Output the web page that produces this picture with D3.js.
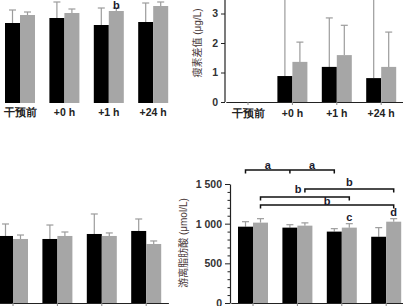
<!DOCTYPE html>
<html>
<head>
<meta charset="utf-8">
<script src="https://cdn.jsdelivr.net/npm/d3@7"></script>
<style>
  body { margin: 0; background: #fff; }
  svg { display: block; font-family: "Liberation Sans", "Noto Sans CJK SC", sans-serif; }
</style>
</head>
<body>
<div id="chart"></div>
<script>
const categories = ["干预前", "+0 h", "+1 h", "+24 h"];

// top left panel (axis cropped away)
const tlBlack = [8.0, 8.5, 7.8, 8.1];
const tlBlackSd = [1.3, 1.6, 1.7, 1.9];
const tlGrey = [8.8, 9.0, 9.2, 9.7];
const tlGreySd = [0.3, 0.4, 0.3, 0.4];

// top right panel: 瘦素差值 (μg/L)
const trBlack = [0, 0.88, 1.19, 0.81];
const trBlackSd = [0, 3.0, 1.66, 3.0];
const trGrey = [0, 1.36, 1.59, 1.19];
const trGreySd = [0, 0.67, 1.01, 1.18];
const trTicks = [0, 1, 2, 3];

// bottom left panel (axis cropped away)
const blBlack = [845, 807, 870, 908];
const blBlackSd = [151, 176, 252, 151];
const blGrey = [807, 845, 845, 744];
const blGreySd = [50, 50, 38, 38];

// bottom right panel: 游离脂肪酸 (μmol/L)
const brBlack = [962, 950, 900, 835];
const brBlackSd = [63, 37, 37, 115];
const brGrey = [1013, 975, 950, 1025];
const brGreySd = [50, 35, 50, 38];
const brTicks = [0, 500, 1000, 1500];

// significance letters above bars: [category index, series, letter]
const tlLetters = [[2, "grey", "b"]];
const brLetters = [[2, "grey", "c"], [3, "grey", "d"]];
// brackets: [from index, to index, series, level, middle tick?]
const brBrackets = [
  [0, 2, "black", 1677, true],
  [1, 3, "grey", 1437, false],
  [0, 2, "grey", 1337, false],
  [0, 3, "grey", 1236, false]
];
// bracket labels: [x position between categories, series, level, letter]
const brBracketLabels = [
  [0.5, "black", 1740, "a"], [1.5, "black", 1740, "a"],
  [0.85, "grey", 1437, "b"], [2.0, "grey", 1530, "b"],
  [1.5, "grey", 1290, "b"]
];

const W = 403, H = 306;
const step = 44.4, barW = 15;

const svg = d3.select("#chart").append("svg")
  .attr("width", W).attr("height", H);

function groupScale(firstCenter) {
  return d3.scaleBand()
    .domain(categories)
    .range([firstCenter - step / 2, firstCenter - step / 2 + step * categories.length])
    .padding(0);
}

function barX(x, i, series) {
  let c = x(categories[i]) + x.bandwidth() / 2;
  return series === "black" ? c - barW : c;
}

function drawBars(g, x, y, black, blackSd, grey, greySd) {
  let rows = [];
  categories.forEach((c, i) => {
    rows.push({ i: i, s: "black", v: black[i], sd: blackSd[i], fill: "#000" });
    rows.push({ i: i, s: "grey", v: grey[i], sd: greySd[i], fill: "#a6a6a6" });
  });

  // error bars first so they sit behind bars
  let err = g.append("g").attr("stroke", "#9c9c9c").attr("stroke-width", 1.2);
  rows.filter((d) => d.sd > 0).forEach((d) => {
    let cx = barX(x, d.i, d.s) + barW / 2;
    err.append("line")
      .attr("x1", cx).attr("x2", cx)
      .attr("y1", y(d.v)).attr("y2", y(d.v + d.sd));
    err.append("line")
      .attr("x1", cx - 3.5).attr("x2", cx + 3.5)
      .attr("y1", y(d.v + d.sd)).attr("y2", y(d.v + d.sd));
  });

  g.append("g")
    .selectAll("rect")
    .data(rows)
    .join("rect")
    .attr("x", (d) => barX(x, d.i, d.s))
    .attr("width", barW)
    .attr("y", (d) => y(d.v))
    .attr("height", (d) => y(0) - y(d.v))
    .attr("fill", (d) => d.fill);
}

function drawLetters(g, x, y, letters, black, blackSd, grey, greySd) {
  letters.forEach(([i, s, t]) => {
    let top = s === "black" ? black[i] + blackSd[i] : grey[i] + greySd[i];
    g.append("text")
      .attr("x", barX(x, i, s) + barW / 2)
      .attr("y", Math.max(y(top) - 3, 9))
      .attr("text-anchor", "middle")
      .attr("font-size", 11)
      .attr("font-weight", "bold")
      .attr("fill", "#1a1a2e")
      .text(t);
  });
}

function styleXAxis(g, showLine) {
  g.selectAll(".tick line").attr("stroke", "#888");
  g.select(".domain").attr("stroke", showLine ? "#222" : "none").attr("stroke-width", 1.2);
  g.selectAll(".tick text")
    .attr("font-size", 10.5)
    .attr("font-weight", "bold")
    .attr("fill", "#222");
}

// ---------- top left ----------
{
  let x = groupScale(20);
  let y = d3.scaleLinear().domain([0, 12]).range([103, -17]);
  let g = svg.append("g");
  drawBars(g, x, y, tlBlack, tlBlackSd, tlGrey, tlGreySd);
  drawLetters(g, x, y, tlLetters, tlBlack, tlBlackSd, tlGrey, tlGreySd);
  g.append("g")
    .attr("transform", `translate(0,${y(0)})`)
    .call(d3.axisBottom(x).tickSize(0).tickPadding(6))
    .call((a) => styleXAxis(a, false));
}

// ---------- top right ----------
{
  let x = groupScale(248);
  let y = d3.scaleLinear().domain([0, 3]).range([102, 13.5]);
  let g = svg.append("g");
  drawBars(g, x, y, trBlack, trBlackSd, trGrey, trGreySd);
  g.append("g")
    .attr("transform", `translate(0,${y(0)})`)
    .call(d3.axisBottom(x).tickSize(3).tickSizeOuter(0).tickPadding(5))
    .call((a) => styleXAxis(a, true));
  let ya = g.append("g")
    .attr("transform", "translate(225,0)")
    .call(d3.axisLeft(y).tickValues(trTicks).tickFormat(d3.format("d"))
      .tickSize(4).tickSizeOuter(0).tickPadding(3));
  ya.select(".domain").attr("d", `M0,${y(0)}V-2`).attr("stroke", "#222").attr("stroke-width", 1.2);
  ya.selectAll(".tick line").attr("stroke", "#222");
  ya.selectAll(".tick text").attr("font-size", 10.5).attr("font-weight", "bold").attr("fill", "#333");
  g.append("text")
    .attr("transform", "translate(201,43) rotate(-90)")
    .attr("text-anchor", "middle")
    .attr("font-size", 10)
    .attr("fill", "#4a3a3a")
    .text("瘦素差值 (μg/L)");
}

// ---------- bottom left ----------
{
  let x = groupScale(13);
  let y = d3.scaleLinear().domain([0, 1500]).range([303, 184]);
  let g = svg.append("g");
  drawBars(g, x, y, blBlack, blBlackSd, blGrey, blGreySd);
  g.append("g")
    .attr("transform", `translate(0,${y(0)})`)
    .call(d3.axisBottom(x).tickSize(4).tickSizeOuter(0).tickFormat(""))
    .call((a) => styleXAxis(a, true));
}

// ---------- bottom right ----------
{
  let x = groupScale(253);
  let y = d3.scaleLinear().domain([0, 1500]).range([303, 184]);
  let g = svg.append("g");
  drawBars(g, x, y, brBlack, brBlackSd, brGrey, brGreySd);
  drawLetters(g, x, y, brLetters, brBlack, brBlackSd, brGrey, brGreySd);

  g.append("g")
    .attr("transform", `translate(0,${y(0)})`)
    .call(d3.axisBottom(x).tickSize(4).tickSizeOuter(0).tickFormat(""))
    .call((a) => styleXAxis(a, true));

  let fmt = d3.formatLocale({ decimal: ".", thousands: " ", grouping: [3], currency: ["", ""] }).format(",");
  let ya = g.append("g")
    .attr("transform", "translate(230,0)")
    .call(d3.axisLeft(y).tickValues(d3.range(0, 1501, 100)).tickSize(5).tickSizeOuter(0).tickPadding(3)
      .tickFormat((d) => (brTicks.includes(d) ? fmt(d) : "")));
  ya.select(".domain").attr("stroke", "#222").attr("stroke-width", 1.2);
  ya.selectAll(".tick line")
    .attr("stroke", "#222")
    .attr("x2", (d) => (brTicks.includes(d) ? -5 : -2.5));
  ya.selectAll(".tick text").attr("font-size", 10.5).attr("font-weight", "bold").attr("fill", "#333");

  g.append("text")
    .attr("transform", "translate(187,243) rotate(-90)")
    .attr("text-anchor", "middle")
    .attr("font-size", 10)
    .attr("fill", "#4a3a3a")
    .text("游离脂肪酸 (μmol/L)");

  // brackets
  let br = g.append("g").attr("stroke", "#111").attr("stroke-width", 1.5).attr("fill", "none");
  brBrackets.forEach(([a, b, s, lvl, mid]) => {
    let x1 = barX(x, a, s) + barW / 2;
    let x2 = barX(x, b, s) + barW / 2;
    let yy = y(lvl);
    br.append("path").attr("d", `M${x1},${yy + 3.5}V${yy}H${x2}V${yy + 3.5}`);
    if (mid) {
      let xm = barX(x, a + 1, s) + barW / 2;
      br.append("path").attr("d", `M${xm},${yy}V${yy + 3.5}`);
    }
  });
  brBracketLabels.forEach(([pos, s, lvl, t]) => {
    let i0 = Math.floor(pos);
    let c0 = barX(x, i0, s) + barW / 2;
    g.append("text")
      .attr("x", c0 + (pos - i0) * step)
      .attr("y", y(lvl) + 4)
      .attr("text-anchor", "middle")
      .attr("font-size", 11)
      .attr("font-weight", "bold")
      .attr("fill", "#1a1a2e")
      .text(t);
  });
}
</script>
</body>
</html>
